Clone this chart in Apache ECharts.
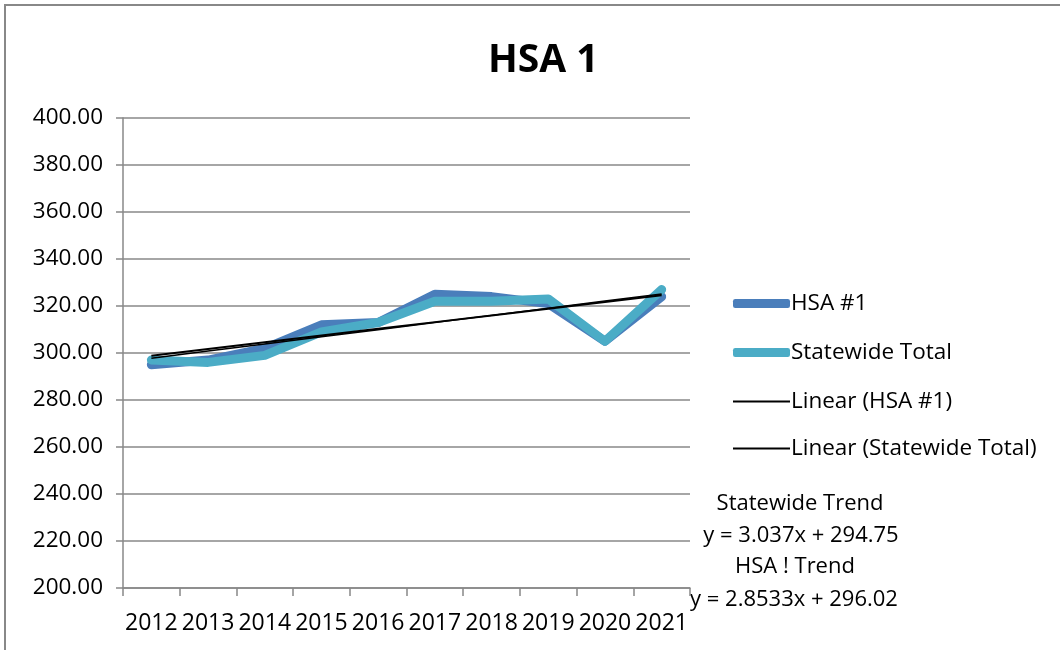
<!DOCTYPE html>
<html>
<head>
<meta charset="utf-8">
<script src="https://cdn.jsdelivr.net/npm/echarts@6/dist/echarts.min.js"></script>
<style>
  html, body { margin: 0; padding: 0; background: #fff; }
  #chart { width: 1060px; height: 650px; }
</style>
</head>
<body>
<div id="chart"></div>
<script>
// categories and values
const years = ['2012', '2013', '2014', '2015', '2016', '2017', '2018', '2019', '2020', '2021'];
const hsa1 = [295, 297, 302, 312, 313, 325, 324, 321, 305, 324];
const statewide = [297, 296, 299, 309, 313, 322, 322, 323, 305, 327];

// trend equations shown on the chart (x = 1..10)
const hsaTrend = { slope: 2.8533, intercept: 296.02 };
const stateTrend = { slope: 3.037, intercept: 294.75 };

const trendValues = (t) => years.map((_, i) => +(t.slope * (i + 1) + t.intercept).toFixed(2));

const FONT = 'Open Sans';
const blue = '#4A7EBB';
const teal = '#4BACC6';

let myChart = echarts.init(document.getElementById('chart'));

const legendItem = (name, top, icon, color, h) => ({
  orient: 'vertical',
  left: 728,
  top: top,
  icon: icon,
  itemWidth: 57,
  itemHeight: h,
  itemGap: 0,
  textStyle: { fontFamily: FONT, fontSize: 22.5, color: '#000', padding: [0, 0, 0, -4] },
  data: [{ name: name, itemStyle: { color: color } }]
});

let option = {
  backgroundColor: '#fff',
  animation: false,
  title: {
    text: 'HSA 1',
    left: 483,
    top: 36,
    textStyle: { fontFamily: FONT, fontSize: 39, fontWeight: 'bold', color: '#000' }
  },
  legend: [
    legendItem('HSA #1', 287, 'roundRect', blue, 9),
    legendItem('Statewide Total', 336, 'roundRect', teal, 9),
    legendItem('Linear (HSA #1)', 385, 'rect', '#000', 2),
    legendItem('Linear (Statewide Total)', 432, 'rect', '#000', 2)
  ],
  grid: { left: 123, right: 370, top: 118, bottom: 62 },
  xAxis: {
    type: 'category',
    data: years,
    boundaryGap: true,
    axisLine: { lineStyle: { color: '#888', width: 1.5 } },
    axisTick: { show: true, length: 8, lineStyle: { color: '#888', width: 1.5 } },
    axisLabel: { interval: 0, fontFamily: FONT, fontSize: 23, color: '#000', margin: 24 }
  },
  yAxis: {
    type: 'value',
    min: 200,
    max: 400,
    interval: 20,
    axisLine: { show: true, lineStyle: { color: '#888', width: 1.5 } },
    axisTick: { show: true, length: 7, lineStyle: { color: '#888', width: 1.5 } },
    splitLine: { lineStyle: { color: '#888', width: 1.5 } },
    axisLabel: {
      fontFamily: FONT, fontSize: 22.5, color: '#000', margin: 20,
      formatter: (v) => v.toFixed(2)
    }
  },
  series: [
    {
      name: 'HSA #1',
      type: 'line',
      data: hsa1,
      showSymbol: false,
      lineStyle: { color: blue, width: 9, cap: 'round', join: 'round' },
      itemStyle: { color: blue }
    },
    {
      name: 'Statewide Total',
      type: 'line',
      data: statewide,
      showSymbol: false,
      lineStyle: { color: teal, width: 9, cap: 'round', join: 'round' },
      itemStyle: { color: teal }
    },
    {
      name: 'Linear (HSA #1)',
      type: 'line',
      data: trendValues(hsaTrend),
      showSymbol: false,
      lineStyle: { color: '#000', width: 2 },
      itemStyle: { color: '#000' }
    },
    {
      name: 'Linear (Statewide Total)',
      type: 'line',
      data: trendValues(stateTrend),
      showSymbol: false,
      lineStyle: { color: '#000', width: 1.5 },
      itemStyle: { color: '#000' }
    }
  ],
  graphic: [
    {
      type: 'rect',
      shape: { x: 5, y: 5, width: 1070, height: 660 },
      style: { fill: 'none', stroke: '#888', lineWidth: 2 },
      silent: true
    },
    {
      type: 'text', x: 800, y: 504,
      style: { text: 'Statewide Trend', fontFamily: FONT, fontSize: 22, fill: '#000', textAlign: 'center', textVerticalAlign: 'middle' }
    },
    {
      type: 'text', x: 801, y: 536,
      style: { text: 'y = 3.037x + 294.75', fontFamily: FONT, fontSize: 22, fill: '#000', textAlign: 'center', textVerticalAlign: 'middle' }
    },
    {
      type: 'text', x: 795, y: 567,
      style: { text: 'HSA ! Trend', fontFamily: FONT, fontSize: 22, fill: '#000', textAlign: 'center', textVerticalAlign: 'middle' }
    },
    {
      type: 'text', x: 794, y: 600,
      style: { text: 'y = 2.8533x + 296.02', fontFamily: FONT, fontSize: 22, fill: '#000', textAlign: 'center', textVerticalAlign: 'middle' }
    }
  ]
};

myChart.setOption(option);
</script>
</body>
</html>
